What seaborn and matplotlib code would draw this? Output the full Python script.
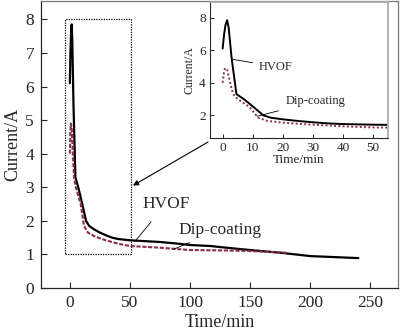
import matplotlib
matplotlib.use("Agg")
import matplotlib.pyplot as plt
import seaborn as sns
import pandas as pd
from matplotlib.patches import Rectangle

sns.set_theme(style="ticks")
plt.rcParams['font.family'] = ['Liberation Serif', 'DejaVu Serif']

# ---- data ----
hvof_t = [0, 0.5, 1, 1.5, 2, 3, 4.6, 7, 10, 13.5, 16, 20, 25, 30, 35, 40, 45, 50,
          60, 75, 90, 100, 117, 130, 150, 175, 200, 220, 240]
hvof_i = [6.1, 7.0, 7.6, 7.85, 7.4, 5.5, 3.3, 3.0, 2.55, 2.0, 1.85, 1.75, 1.65,
          1.57, 1.5, 1.46, 1.44, 1.42, 1.4, 1.37, 1.32, 1.28, 1.25, 1.2, 1.13,
          1.05, 0.95, 0.92, 0.89]
dip_t = [0, 0.4, 0.8, 1.5, 2.5, 3.5, 5, 9, 11.8, 15, 20, 25, 30, 40, 50,
         75, 100, 125, 150, 180]
dip_i = [4.0, 4.6, 4.9, 4.8, 4.0, 3.3, 3.0, 2.5, 1.85, 1.65, 1.55, 1.48, 1.42,
         1.32, 1.25, 1.2, 1.13, 1.12, 1.1, 1.05]

main_xticks = [0, 50, 100, 150, 200, 250]
main_yticks = [0, 1, 2, 3, 4, 5, 6, 7, 8]
inset_xticks = [0, 10, 20, 30, 40, 50]
inset_yticks = [2, 4, 6, 8]

hvof = pd.DataFrame({"t": hvof_t, "i": hvof_i})
dip = pd.DataFrame({"t": dip_t, "i": dip_i})

dip_color = "#8b2d50"

fig = plt.figure(figsize=(4.0, 3.31), dpi=100)
ax = fig.add_axes([0.1025, 0.13, 0.8925, 0.867])

sns.lineplot(data=hvof, x="t", y="i", ax=ax, color="black", lw=1.6)
sns.lineplot(data=dip, x="t", y="i", ax=ax, color=dip_color, lw=1.5,
             linestyle=(0, (2.0, 0.8)))
ax.set_xlim(-24, 273)
ax.set_ylim(0, 8.55)
ax.set_xticks(main_xticks)
ax.set_yticks(main_yticks)
ax.tick_params(direction="in", length=4, width=0.8, labelsize=12.5, pad=5)
ax.set_xlabel("Time/min", fontsize=13, labelpad=2)
ax.set_ylabel("Current/A", fontsize=13, labelpad=3)
for s in ax.spines.values():
    s.set_linewidth(0.9)
ax.spines["top"].set_color("#777777")
ax.spines["right"].set_color("#777777")

ax.add_patch(Rectangle((-4, 1.0), 55, 7.0, fill=False, ls=(0, (1, 1)),
                       lw=0.9, ec="black"))

ax.annotate("HVOF", xy=(54, 1.38), xytext=(60, 2.5), fontsize=12.5,
            ha="left", va="center",
            arrowprops=dict(arrowstyle="-", lw=0.6, color="black",
                            shrinkA=6, shrinkB=0))
ax.annotate("Dip-coating", xy=(86, 1.15), xytext=(90, 1.72), fontsize=12.5,
            ha="left", va="center",
            arrowprops=dict(arrowstyle="-", lw=0.6, color="black",
                            shrinkA=2, shrinkB=0))

# ---- inset ----
ins = fig.add_axes([0.525, 0.583, 0.445, 0.411])
sns.lineplot(data=hvof, x="t", y="i", ax=ins, color="black", lw=1.4)
sns.lineplot(data=dip, x="t", y="i", ax=ins, color=dip_color, lw=1.4,
             linestyle=(0, (1.0, 1.2)))
ins.set_xlim(-4.2, 55)
ins.set_ylim(0.6, 8.97)
ins.set_xticks(inset_xticks)
ins.set_yticks(inset_yticks)
ins.tick_params(direction="in", length=3, width=0.7, labelsize=9.5, pad=3)
ins.set_xlabel("Time/min", fontsize=9.5, labelpad=0)
ins.set_ylabel("Current/A", fontsize=8.5, labelpad=3)
ins.spines["top"].set_color("#aaaaaa")
ins.spines["right"].set_color("#aaaaaa")
ins.spines["left"].set_linewidth(0.8)
ins.spines["bottom"].set_linewidth(0.8)

ins.annotate("HVOF", xy=(3.1, 5.45), xytext=(12, 5.0), fontsize=9,
             ha="left", va="center",
             arrowprops=dict(arrowstyle="-", lw=0.6, color="black",
                             shrinkA=2, shrinkB=0))
ins.annotate("Dip-coating", xy=(11.4, 1.94), xytext=(21, 2.85), fontsize=9,
             ha="left", va="center",
             arrowprops=dict(arrowstyle="-", lw=0.6, color="black",
                             shrinkA=3, shrinkB=0))

# arrow from inset corner to the zoom box
ax.annotate("", xy=(52.5, 3.05), xytext=(115, 4.35),
            arrowprops=dict(arrowstyle="-|>", lw=0.8, color="black",
                            mutation_scale=8, shrinkA=0, shrinkB=0))

fig.savefig("out.png", dpi=100)
